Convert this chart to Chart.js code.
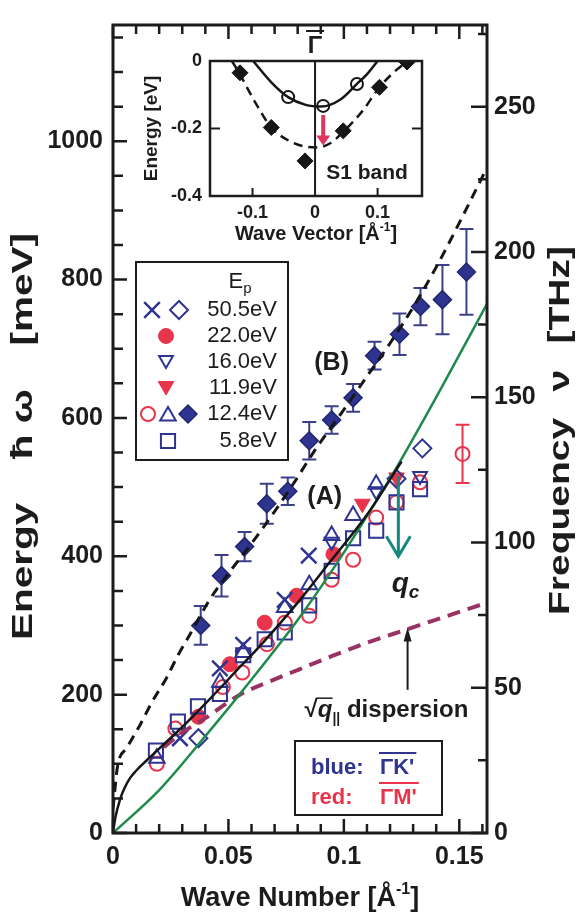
<!DOCTYPE html>
<html>
<head>
<meta charset="utf-8">
<script src="https://cdn.jsdelivr.net/npm/chart.js@4.4.1/dist/chart.umd.min.js"></script>
<style>
  html, body { margin: 0; padding: 0; background: #fff; }
  #wrap { position: relative; width: 581px; height: 913px; }
  #main { position: absolute; left: 0; top: 0; }
  #inset { position: absolute; left: 140px; top: 30px; }
</style>
</head>
<body>
<div id="wrap">
  <canvas id="main" width="581" height="913"></canvas>
  <canvas id="inset" width="300" height="215"></canvas>
</div>
<script>
const FONT = '"Liberation Sans", Arial, Helvetica, sans-serif';
const INK = '#1c1c1c';
const BLUE = '#2e3490';
const RED = '#e8354b';
const TEAL = '#16897c';
const GREEN = '#1f8a4c';
const MAROON = '#9a3263';

const E_MAX = 1168;          // meV, top of the frame
const Q_MAX = 0.162;         // 1/A, right edge
const MEV_PER_THZ = 4.2;     // right axis as drawn

// (B) branch, 12.4 eV filled diamonds with error bars
const qB   = [0.038, 0.047, 0.057, 0.0666, 0.0757, 0.085, 0.0947, 0.104, 0.1133, 0.1241, 0.1332, 0.1427, 0.1531];
const eB   = [300, 372, 414, 476, 494, 567, 597, 629, 690, 721, 761, 771, 811];
const errB = [28, 30, 21, 29, 20, 27, 20, 20, 20, 30, 27, 50, 62];

// 50.5 eV
const qCross = [0.029, 0.0463, 0.0564, 0.0744, 0.0848];
const eCross = [137, 238, 272, 337, 401];
const qDiaOpen = [0.037, 0.1228, 0.134];
const eDiaOpen = [137, 512, 556];
// 22.0 eV
const qDot = [0.037, 0.0506, 0.0657, 0.0795, 0.0955];
const eDot = [168, 244, 304, 343, 403];
// 16.0 eV
const qTriDn = [0.0947, 0.114, 0.133];
const eTriDn = [421, 494, 516];
// 11.9 eV
const qTriDnFill = [0.108, 0.1228];
const eTriDnFill = [476, 514];
// 12.4 eV open circles (red) and open triangles (blue)
const qRing = [0.019, 0.027, 0.0476, 0.056, 0.0667, 0.0744, 0.085, 0.0947, 0.104, 0.114, 0.1228, 0.133];
const eRing = [100, 151, 211, 232, 273, 304, 314, 366, 395, 456, 478, 507];
const qRingErr = [0.1514];
const eRingErr = [548];
const errRingErr = [42];
const qTriUp = [0.019, 0.0463, 0.0564, 0.0744, 0.085, 0.0947, 0.104, 0.114];
const eTriUp = [108, 218, 261, 326, 359, 430, 459, 504];
// 5.8 eV
const qSquare = [0.0186, 0.0281, 0.0368, 0.0463, 0.0564, 0.0657, 0.0744, 0.085, 0.0947, 0.104, 0.114, 0.1228, 0.133];
const eSquare = [119, 161, 183, 201, 257, 280, 290, 329, 379, 426, 437, 478, 497];

// curves
const qCurveB = [0, 0.002, 0.006, 0.012, 0.017, 0.023, 0.028, 0.033, 0.042, 0.05, 0.063, 0.076, 0.088, 0.1, 0.11, 0.12, 0.13, 0.14, 0.15, 0.162];
const eCurveB = [35, 97, 123, 158, 190, 223, 256, 285, 338, 375, 432, 494, 556, 612, 660, 708, 760, 818, 882, 962];
const qCurveA = [0, 0.001, 0.003, 0.005, 0.0075, 0.01, 0.013, 0.0165, 0.02, 0.029, 0.042, 0.055, 0.063, 0.08, 0.094, 0.11, 0.125];
const eCurveA = [0, 22, 48, 65, 80, 90, 100, 111, 122, 150, 194, 240, 268, 333, 392, 460, 537];
const qGreen = [0, 0.02, 0.04, 0.06, 0.08, 0.095, 0.11, 0.124, 0.143, 0.162];
const eGreen = [0, 62, 140, 222, 308, 380, 458, 535, 648, 765];
const qSqrt = [0.022, 0.03, 0.04, 0.055, 0.07, 0.081, 0.095, 0.11, 0.127, 0.145, 0.162];
const eSqrt = [124, 145, 166, 200, 222, 237, 256, 275, 294, 314, 333];

// inset: S1 band
const kRingIn = [-0.043, 0.013, 0.067];
const eRingIn = [-0.107, -0.133, -0.068];
const kDiaIn = [-0.12, -0.07, -0.016, 0.045, 0.103, 0.147];
const eDiaIn = [-0.035, -0.197, -0.296, -0.207, -0.078, -0.003];
const kSolidIn = [-0.099, -0.07, -0.043, -0.015, 0.01, 0.04, 0.067, 0.085, 0.1];
const eSolidIn = [0, -0.063, -0.107, -0.13, -0.135, -0.115, -0.068, -0.035, 0];
const kDashIn = [-0.133, -0.12, -0.095, -0.07, -0.04, -0.015, 0.003, 0.025, 0.045, 0.075, 0.103, 0.125, 0.148];
const eDashIn = [0, -0.04, -0.125, -0.197, -0.238, -0.254, -0.256, -0.243, -0.21, -0.15, -0.078, -0.035, 0];

const pts = (xs, ys) => xs.map((x, i) => ({ x, y: ys[i] }));

// marker looks, shared by datasets and the hand drawn legend
const SYM = {
  dia:     { style: 'rectRot',  r: 9,  fill: BLUE, stroke: '#1f2670', lw: 1.5, rot: 0 },
  cross:   { style: 'crossRot', r: 11, fill: 'transparent', stroke: BLUE, lw: 2.5, rot: 0 },
  diaOpen: { style: 'rectRot',  r: 9,  fill: 'transparent', stroke: BLUE, lw: 2, rot: 0 },
  dot:     { style: 'circle',   r: 7.5, fill: RED, stroke: RED, lw: 1, rot: 0 },
  triDn:   { style: 'triangle', r: 8,  fill: 'transparent', stroke: BLUE, lw: 2, rot: 180 },
  triDnF:  { style: 'triangle', r: 9,  fill: RED, stroke: RED, lw: 1, rot: 180 },
  ring:    { style: 'circle',   r: 7,  fill: 'transparent', stroke: RED, lw: 2, rot: 0 },
  triUp:   { style: 'triangle', r: 9,  fill: 'transparent', stroke: BLUE, lw: 2, rot: 0 },
  square:  { style: 'rect',     r: 10, fill: 'transparent', stroke: BLUE, lw: 2, rot: 0 }
};

function scatterSet(xs, ys, s) {
  return {
    data: pts(xs, ys), showLine: false,
    pointStyle: s.style, pointRadius: s.r, pointRotation: s.rot,
    pointBackgroundColor: s.fill, pointBorderColor: s.stroke, pointBorderWidth: s.lw
  };
}
function lineSet(xs, ys, color, width, dash) {
  return {
    type: 'line', data: pts(xs, ys), borderColor: color, borderWidth: width,
    borderDash: dash || [], pointRadius: 0, fill: false, cubicInterpolationMode: 'monotone'
  };
}

function mark(ctx, s, x, y) {
  ctx.save();
  ctx.fillStyle = s.fill; ctx.strokeStyle = s.stroke; ctx.lineWidth = s.lw;
  ctx.beginPath();
  const r = s.r;
  let rad = s.rot * Math.PI / 180;
  if (s.style === 'circle') ctx.arc(x, y, r, 0, 2 * Math.PI);
  else if (s.style === 'rect') { const h = r * Math.SQRT1_2; ctx.rect(x - h, y - h, 2 * h, 2 * h); }
  else if (s.style === 'rectRot') { ctx.moveTo(x - r, y); ctx.lineTo(x, y - r); ctx.lineTo(x + r, y); ctx.lineTo(x, y + r); ctx.closePath(); }
  else if (s.style === 'triangle') {
    for (let k = 0; k < 3; k++) {
      const px = x + Math.sin(rad) * r, py = y - Math.cos(rad) * r;
      if (k) ctx.lineTo(px, py); else ctx.moveTo(px, py);
      rad += 2 * Math.PI / 3;
    }
    ctx.closePath();
  } else if (s.style === 'crossRot') {
    const o = r * Math.SQRT1_2;
    ctx.moveTo(x - o, y - o); ctx.lineTo(x + o, y + o);
    ctx.moveTo(x + o, y - o); ctx.lineTo(x - o, y + o);
  }
  if (s.fill !== 'transparent' && s.style !== 'crossRot') ctx.fill();
  ctx.stroke();
  ctx.restore();
}

// text made of pieces (sub/superscripts); y is the baseline
function richText(ctx, parts, x, y, align) {
  let w = 0;
  parts.forEach(p => { ctx.font = p[1]; w += ctx.measureText(p[0]).width; });
  let cx = align === 'center' ? x - w / 2 : align === 'right' ? x - w : x;
  ctx.textAlign = 'left'; ctx.textBaseline = 'alphabetic';
  parts.forEach(p => {
    ctx.font = p[1];
    ctx.fillText(p[0], cx, y + (p[2] || 0));
    cx += ctx.measureText(p[0]).width;
  });
  return w;
}

// rotated title (bottom to top), glyphs stretched a little and words spread to a given length
function vTitle(ctx, words, x, yBottom, yTop, font, stretch) {
  ctx.save();
  ctx.translate(x, yBottom); ctx.rotate(-Math.PI / 2); ctx.scale(stretch, 1);
  ctx.font = font; ctx.textAlign = 'left'; ctx.textBaseline = 'middle';
  const ws = words.map(w => ctx.measureText(w).width);
  const len = (yBottom - yTop) / stretch;
  const gap = (len - ws.reduce((s, v) => s + v, 0)) / (words.length - 1);
  let p = 0;
  words.forEach((w, i) => { ctx.fillText(w, p, 0); p += ws[i] + gap; });
  ctx.restore();
}

function errBars(chart, qs, es, errs, color) {
  const ctx = chart.ctx, sx = chart.scales.x, sy = chart.scales.y;
  ctx.save();
  ctx.strokeStyle = color; ctx.lineWidth = 2;
  ctx.beginPath();
  qs.forEach((q, i) => {
    const x = sx.getPixelForValue(q);
    const y1 = sy.getPixelForValue(es[i] - errs[i]);
    const y2 = sy.getPixelForValue(es[i] + errs[i]);
    ctx.moveTo(x, y1); ctx.lineTo(x, y2);
    ctx.moveTo(x - 7, y1); ctx.lineTo(x + 7, y1);
    ctx.moveTo(x - 7, y2); ctx.lineTo(x + 7, y2);
  });
  ctx.stroke();
  ctx.restore();
}

function isMajor(t) { return t.label !== '' && t.label !== undefined; }

const mainDeco = {
  id: 'mainDeco',
  beforeDraw(chart) {
    const ctx = chart.ctx;
    ctx.save(); ctx.fillStyle = '#fff'; ctx.fillRect(0, 0, chart.width, chart.height); ctx.restore();
  },
  beforeDatasetsDraw(chart) {
    errBars(chart, qB, eB, errB, '#3b3f88');
    errBars(chart, qRingErr, eRingErr, errRingErr, RED);
  },
  afterDraw(chart) {
    const ctx = chart.ctx, a = chart.chartArea;
    const sx = chart.scales.x, sy = chart.scales.y, sy2 = chart.scales.y2;
    ctx.save();
    ctx.strokeStyle = INK; ctx.fillStyle = INK;

    // frame
    ctx.lineWidth = 3;
    ctx.strokeRect(a.left, a.top, a.right - a.left, a.bottom - a.top);

    // inward ticks
    ctx.lineWidth = 2.5;
    ctx.beginPath();
    sx.ticks.forEach(t => {
      const x = sx.getPixelForValue(t.value), L = isMajor(t) ? 14 : 9;
      ctx.moveTo(x, a.bottom); ctx.lineTo(x, a.bottom - L);
      ctx.moveTo(x, a.top); ctx.lineTo(x, a.top + L);
    });
    sy.ticks.forEach(t => {
      const y = sy.getPixelForValue(t.value), L = isMajor(t) ? 14 : 10;
      ctx.moveTo(a.left, y); ctx.lineTo(a.left + L, y);
    });
    sy2.ticks.forEach(t => {
      const y = sy2.getPixelForValue(t.value), L = isMajor(t) ? 16 : 9;
      ctx.moveTo(a.right, y); ctx.lineTo(a.right - L, y);
    });
    ctx.stroke();

    // axis titles
    ctx.fillStyle = INK;
    richText(ctx, [['Wave Number [Å', 'bold 27px ' + FONT], ['-1', 'bold 16px ' + FONT, -12], [']', 'bold 27px ' + FONT]], (a.left + a.right) / 2, 906, 'center');
    vTitle(ctx, ['Energy', 'ħ ω', '[meV]'], 24, 640, 233, 'bold 30px ' + FONT, 1.35);
    vTitle(ctx, ['Frequency', 'ν', '[THz]'], 561, 615, 246, 'bold 30px ' + FONT, 1.3);

    // q_c arrow (teal, open head)
    const xq = sx.getPixelForValue(0.1236);
    const yq0 = sy.getPixelForValue(516), yq1 = sy.getPixelForValue(400);
    ctx.strokeStyle = TEAL; ctx.lineWidth = 3;
    ctx.beginPath();
    ctx.moveTo(xq, yq0); ctx.lineTo(xq, yq1);
    ctx.moveTo(xq - 12, yq1 - 20); ctx.lineTo(xq, yq1); ctx.lineTo(xq + 12, yq1 - 20);
    ctx.stroke();

    // arrow to the sqrt(q) curve
    const xa = sx.getPixelForValue(0.1276);
    const ya0 = sy.getPixelForValue(207), ya1 = sy.getPixelForValue(297);
    ctx.strokeStyle = INK; ctx.fillStyle = INK; ctx.lineWidth = 2;
    ctx.beginPath(); ctx.moveTo(xa, ya0); ctx.lineTo(xa, ya1 + 10); ctx.stroke();
    ctx.beginPath(); ctx.moveTo(xa, ya1); ctx.lineTo(xa - 4, ya1 + 14); ctx.lineTo(xa + 4, ya1 + 14); ctx.closePath(); ctx.fill();

    // labels in the plot
    ctx.fillStyle = INK;
    ctx.font = 'bold 25px ' + FONT; ctx.textAlign = 'center'; ctx.textBaseline = 'middle';
    ctx.fillText('(A)', sx.getPixelForValue(0.0917), sy.getPixelForValue(486));
    ctx.fillText('(B)', sx.getPixelForValue(0.0947), sy.getPixelForValue(679));
    richText(ctx, [['q', 'italic bold 28px ' + FONT], ['c', 'italic bold 19px ' + FONT, 6]],
      sx.getPixelForValue(0.1207), sy.getPixelForValue(361) + 9, 'left');
    const xs0 = sx.getPixelForValue(0.083), ys0 = sy.getPixelForValue(179) + 8;
    richText(ctx, [['√', 'bold 24px ' + FONT], ['q', 'italic bold 24px ' + FONT], ['||', 'bold 14px ' + FONT, 6], [' dispersion', 'bold 24px ' + FONT]], xs0, ys0, 'left');
    ctx.lineWidth = 1.5; ctx.strokeStyle = INK;
    ctx.beginPath(); ctx.moveTo(xs0 + 12, ys0 - 19); ctx.lineTo(xs0 + 28, ys0 - 19); ctx.stroke();

    // legend: incident energies
    ctx.lineWidth = 2; ctx.strokeStyle = INK;
    ctx.strokeRect(136, 262, 152, 198);
    ctx.fillStyle = INK;
    richText(ctx, [['E', '22px ' + FONT], ['p', '15px ' + FONT, 5]], 240, 288, 'center');
    const rows = ['50.5eV', '22.0eV', '16.0eV', '11.9eV', '12.4eV', '5.8eV'];
    const rowY = [310, 336, 362, 388, 414, 441];
    ctx.font = '22px ' + FONT; ctx.textAlign = 'right'; ctx.textBaseline = 'middle';
    rows.forEach((r, i) => ctx.fillText(r, 277, rowY[i]));
    mark(ctx, SYM.cross, 152, rowY[0]);
    mark(ctx, SYM.diaOpen, 179, rowY[0]);
    mark(ctx, SYM.dot, 166, rowY[1]);
    mark(ctx, SYM.triDn, 166, rowY[2] - 2);
    mark(ctx, SYM.triDnF, 166, rowY[3] - 2);
    mark(ctx, SYM.ring, 148, rowY[4]);
    mark(ctx, SYM.triUp, 168, rowY[4] + 2);
    mark(ctx, SYM.dia, 188, rowY[4]);
    mark(ctx, SYM.square, 168, rowY[5]);

    // legend: directions
    ctx.strokeStyle = INK; ctx.lineWidth = 2;
    ctx.strokeRect(295, 741, 147, 74);
    ctx.font = 'bold 22px ' + FONT; ctx.textAlign = 'left'; ctx.textBaseline = 'middle';
    ctx.fillStyle = BLUE; ctx.fillText('blue:', 311, 768);
    const wk = ctx.measureText("ΓK'").width; ctx.fillText("ΓK'", 380, 768);
    ctx.strokeStyle = BLUE; ctx.beginPath(); ctx.moveTo(379, 753); ctx.lineTo(382 + wk, 753); ctx.stroke();
    ctx.fillStyle = RED; ctx.fillText('red:', 311, 798);
    const wm = ctx.measureText("ΓM'").width; ctx.fillText("ΓM'", 380, 798);
    ctx.strokeStyle = RED; ctx.beginPath(); ctx.moveTo(379, 783); ctx.lineTo(382 + wm, 783); ctx.stroke();

    ctx.restore();
  }
};

const tickFont = { family: FONT, size: 25, weight: 'bold' };

new Chart(document.getElementById('main'), {
  type: 'scatter',
  data: {
    datasets: [
      lineSet(qCurveA, eCurveA, '#161616', 2.5),
      lineSet(qCurveB, eCurveB, '#161616', 3, [10, 7]),
      lineSet(qGreen, eGreen, GREEN, 2.5),
      lineSet(qSqrt, eSqrt, MAROON, 4, [13, 8]),
      scatterSet(qCross, eCross, SYM.cross),
      scatterSet(qDiaOpen, eDiaOpen, SYM.diaOpen),
      scatterSet(qTriUp, eTriUp, SYM.triUp),
      scatterSet(qTriDn, eTriDn, SYM.triDn),
      scatterSet(qSquare, eSquare, SYM.square),
      scatterSet(qRing, eRing, SYM.ring),
      scatterSet(qRingErr, eRingErr, SYM.ring),
      scatterSet(qDot, eDot, SYM.dot),
      scatterSet(qTriDnFill, eTriDnFill, SYM.triDnF),
      scatterSet(qB, eB, SYM.dia)
    ]
  },
  options: {
    responsive: false,
    animation: false,
    layout: { padding: { top: 15, left: 0, right: 0, bottom: 0 } },
    plugins: { legend: { display: false }, tooltip: { enabled: false } },
    scales: {
      x: {
        type: 'linear', position: 'bottom', min: 0, max: Q_MAX,
        afterFit: s => { s.height = 80; },
        grid: { display: false, drawTicks: false }, border: { display: false },
        ticks: {
          stepSize: 0.01, includeBounds: false, autoSkip: false, maxRotation: 0, padding: 9,
          color: INK, font: tickFont,
          callback: v => { const k = v / 0.05; return Math.abs(k - Math.round(k)) < 1e-6 ? String(Math.round(v * 100) / 100) : ''; }
        }
      },
      y: {
        type: 'linear', position: 'left', min: 0, max: E_MAX,
        afterFit: s => { s.width = 113; },
        grid: { display: false, drawTicks: false }, border: { display: false },
        ticks: {
          stepSize: 50, includeBounds: false, autoSkip: false, padding: 10,
          color: INK, font: tickFont,
          callback: v => (v % 200 === 0 ? String(v) : '')
        }
      },
      y2: {
        type: 'linear', position: 'right', min: 0, max: E_MAX / MEV_PER_THZ,
        afterFit: s => { s.width = 94; },
        grid: { display: false, drawTicks: false }, border: { display: false },
        ticks: {
          stepSize: 25, includeBounds: false, autoSkip: false, padding: 7,
          color: INK, font: tickFont,
          callback: v => (v % 50 === 0 ? String(v) : '')
        }
      }
    }
  },
  plugins: [mainDeco]
});

// ---- inset ----
const insetDeco = {
  id: 'insetDeco',
  afterDraw(chart) {
    const ctx = chart.ctx, a = chart.chartArea, sx = chart.scales.x, sy = chart.scales.y;
    ctx.save();
    ctx.strokeStyle = INK; ctx.fillStyle = INK;
    ctx.lineWidth = 2.5;
    ctx.strokeRect(a.left, a.top, a.right - a.left, a.bottom - a.top);
    const x0 = sx.getPixelForValue(0);
    ctx.lineWidth = 2;
    ctx.beginPath();
    ctx.moveTo(x0, a.top); ctx.lineTo(x0, a.bottom);
    [-0.1, 0.1].forEach(v => { const x = sx.getPixelForValue(v); ctx.moveTo(x, a.bottom); ctx.lineTo(x, a.bottom - 8); });
    const y2 = sy.getPixelForValue(-0.2);
    ctx.moveTo(a.left, y2); ctx.lineTo(a.left + 10, y2);
    ctx.moveTo(a.right, y2); ctx.lineTo(a.right - 10, y2);
    ctx.stroke();

    // red arrow at Gamma
    const xr = sx.getPixelForValue(0.013);
    const yr0 = sy.getPixelForValue(-0.16), yr1 = sy.getPixelForValue(-0.25);
    ctx.strokeStyle = '#e0365c'; ctx.fillStyle = '#e0365c'; ctx.lineWidth = 4;
    ctx.beginPath(); ctx.moveTo(xr, yr0); ctx.lineTo(xr, yr1 - 8); ctx.stroke();
    ctx.beginPath(); ctx.moveTo(xr, yr1); ctx.lineTo(xr - 7, yr1 - 10); ctx.lineTo(xr + 7, yr1 - 10); ctx.closePath(); ctx.fill();

    // Gamma-bar above the frame
    ctx.fillStyle = INK; ctx.strokeStyle = INK;
    ctx.font = 'bold 24px ' + FONT; ctx.textAlign = 'center'; ctx.textBaseline = 'alphabetic';
    ctx.fillText('Γ', x0, a.top - 8);
    ctx.lineWidth = 2; ctx.beginPath(); ctx.moveTo(x0 - 9, a.top - 30); ctx.lineTo(x0 + 9, a.top - 30); ctx.stroke();

    ctx.font = 'bold 21px ' + FONT; ctx.textBaseline = 'middle';
    ctx.fillText('S1 band', sx.getPixelForValue(0.083), sy.getPixelForValue(-0.332));

    richText(ctx, [['Wave Vector [Å', 'bold 20px ' + FONT], ['-1', 'bold 12px ' + FONT, -9], [']', 'bold 20px ' + FONT]], (a.left + a.right) / 2, a.bottom + 44, 'center');
    ctx.restore();
  }
};

const inTick = { family: FONT, size: 18, weight: 'bold' };
new Chart(document.getElementById('inset'), {
  type: 'scatter',
  data: {
    datasets: [
      lineSet(kSolidIn, eSolidIn, '#161616', 2.5),
      lineSet(kDashIn, eDashIn, '#161616', 2.5, [9, 6]),
      { data: pts(kRingIn, eRingIn), pointStyle: 'circle', pointRadius: 6, pointBackgroundColor: '#fff', pointBorderColor: '#161616', pointBorderWidth: 2 },
      { data: pts(kDiaIn, eDiaIn), pointStyle: 'rectRot', pointRadius: 8, pointBackgroundColor: '#161616', pointBorderColor: '#161616', pointBorderWidth: 1 }
    ]
  },
  options: {
    responsive: false,
    animation: false,
    layout: { padding: { top: 31, right: 18, left: 0, bottom: 0 } },
    plugins: { legend: { display: false }, tooltip: { enabled: false } },
    scales: {
      x: {
        type: 'linear', min: -0.168, max: 0.171,
        afterFit: s => { s.height = 49; },
        grid: { display: false, drawTicks: false }, border: { display: false },
        ticks: {
          stepSize: 0.1, includeBounds: false, autoSkip: false, maxRotation: 0, padding: 6,
          color: INK, font: inTick,
          callback: v => (Math.abs(v) < 1e-9 ? '0' : v.toFixed(1))
        }
      },
      y: {
        type: 'linear', min: -0.4, max: 0,
        afterFit: s => { s.width = 70; },
        grid: { display: false, drawTicks: false }, border: { display: false },
        ticks: {
          stepSize: 0.2, autoSkip: false, padding: 8,
          color: INK, font: inTick,
          callback: v => (Math.abs(v) < 1e-9 ? '0' : v.toFixed(1))
        },
        title: { display: true, text: 'Energy [eV]', color: INK, font: { family: FONT, size: 19, weight: 'bold' }, padding: { top: 0, bottom: 0 } }
      }
    }
  },
  plugins: [insetDeco]
});
</script>
</body>
</html>
